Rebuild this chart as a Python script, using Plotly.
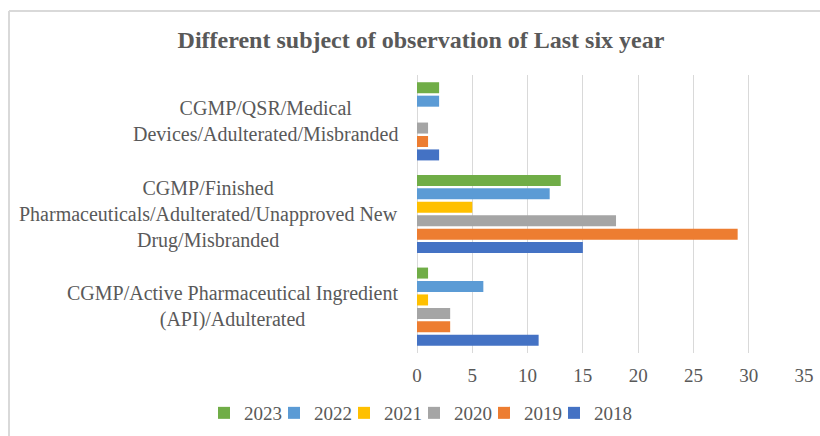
import plotly.graph_objects as go

# Observation subjects (bottom to top on the chart)
categories = [
    "CGMP/Active Pharmaceutical Ingredient<br>(API)/Adulterated",
    "CGMP/Finished<br>Pharmaceuticals/Adulterated/Unapproved New<br>Drug/Misbranded",
    "CGMP/QSR/Medical<br>Devices/Adulterated/Misbranded",
]
years = ["2018", "2019", "2020", "2021", "2022", "2023"]
v2018 = [11, 15, 2]
v2019 = [3, 29, 1]
v2020 = [3, 18, 1]
v2021 = [1, 5, 0]
v2022 = [6, 12, 2]
v2023 = [1, 13, 2]
series = [v2018, v2019, v2020, v2021, v2022, v2023]
colors = ["#4472C4", "#ED7D31", "#A5A5A5", "#FFC000", "#5B9BD5", "#70AD47"]
x_ticks = [0, 5, 10, 15, 20, 25, 30, 35]

W, H = 820, 436
L, R, T, B = 417, 16, 75, 83
plot_w = W - L - R
plot_h = H - T - B

FONT = "Liberation Serif, Times New Roman, serif"
GREY_TXT = "#595959"
FRAME = "#D9D9D9"


def px_to_paper_x(px):
    return (px - L) / plot_w


def px_to_paper_y(py):
    return (T + plot_h - py) / plot_h


fig = go.Figure()

# Empty, invisible legend spacer so the last year label keeps its full width
fig.add_trace(go.Scatter(
    x=[None], y=[None], mode="markers", name=" ",
    marker=dict(color="rgba(0,0,0,0)", size=1), hoverinfo="skip",
))

for name, vals, col in zip(years, series, colors):
    fig.add_trace(go.Bar(
        y=categories, x=vals, name=name, orientation="h",
        marker=dict(color=col, line=dict(width=0)),
    ))

# Category labels, centred line by line, right edge just left of the axis
label_right_px = 400
for cat in categories:
    fig.add_annotation(
        x=px_to_paper_x(label_right_px), xref="paper", xanchor="right",
        y=cat, yref="y", yanchor="middle",
        text=cat, showarrow=False, align="center",
        font=dict(family=FONT, size=20, color=GREY_TXT),
    )

# Outer chart frame: top and left edges (the rest runs off the page)
frame_x, frame_y = 9, 11
fig.add_shape(type="line", xref="paper", yref="paper", layer="below",
              x0=px_to_paper_x(frame_x), x1=px_to_paper_x(W + 5),
              y0=px_to_paper_y(frame_y), y1=px_to_paper_y(frame_y),
              line=dict(color=FRAME, width=2))
fig.add_shape(type="line", xref="paper", yref="paper", layer="below",
              x0=px_to_paper_x(frame_x), x1=px_to_paper_x(frame_x),
              y0=px_to_paper_y(frame_y), y1=px_to_paper_y(H + 5),
              line=dict(color=FRAME, width=2))

fig.update_layout(
    width=W, height=H,
    margin=dict(l=L, r=R, t=T, b=B, pad=0, autoexpand=False),
    paper_bgcolor="white", plot_bgcolor="white",
    barmode="group", bargap=0.13, bargroupgap=0.18,
    title=dict(
        text="<b>Different subject of observation of Last six year</b>",
        x=421 / W, xanchor="center", y=1 - 40 / H, yanchor="middle",
        font=dict(family=FONT, size=24, color=GREY_TXT),
    ),
    xaxis=dict(
        range=[0, 35], tickvals=x_ticks, ticks="", showline=False,
        showgrid=True, gridcolor=FRAME, gridwidth=1,
        zeroline=True, zerolinecolor=FRAME, zerolinewidth=1,
        tickfont=dict(family=FONT, size=19, color=GREY_TXT),
        ticklabelstandoff=9,
    ),
    yaxis=dict(
        type="category", categoryorder="array", categoryarray=categories,
        showticklabels=False, ticks="", showgrid=False, showline=False,
        zeroline=False,
    ),
    legend=dict(
        orientation="h", traceorder="reversed",
        xref="paper", yref="paper",
        x=px_to_paper_x(204), xanchor="left",
        y=px_to_paper_y(413), yanchor="middle",
        font=dict(family=FONT, size=19, color=GREY_TXT),
        itemwidth=30, entrywidth=25, bgcolor="rgba(0,0,0,0)",
    ),
    showlegend=True,
)

fig.write_html("out.html")
